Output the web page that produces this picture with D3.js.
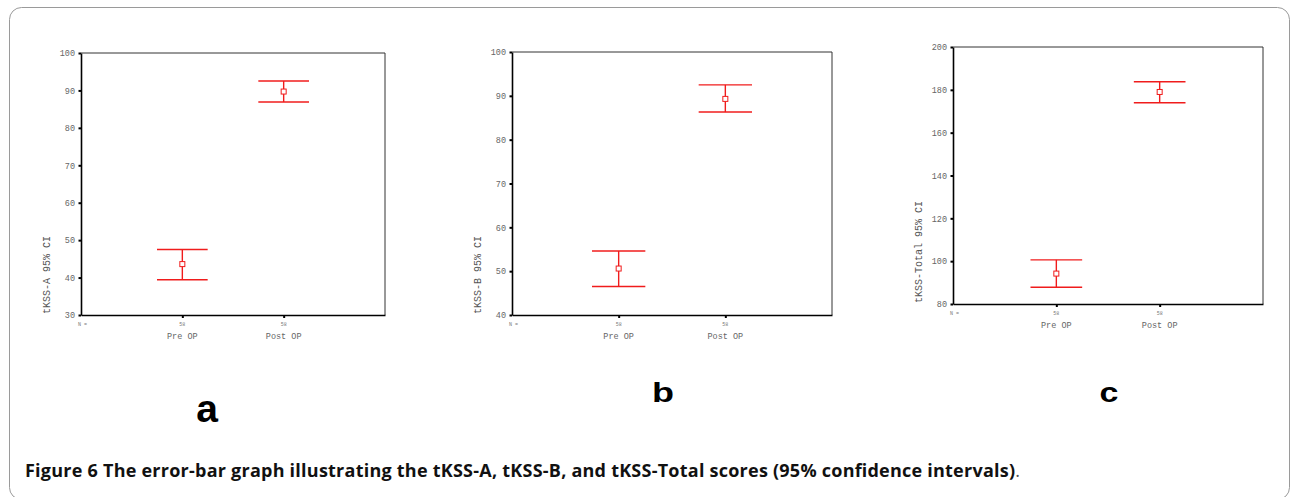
<!DOCTYPE html>
<html>
<head>
<meta charset="utf-8">
<script src="https://cdn.jsdelivr.net/npm/d3@7"></script>
<style>
  body { margin: 0; background: #fff; }
  svg { display: block; }
  .tick-lbl { font-family: "Liberation Mono", monospace; font-size: 8.5px; fill: #666; }
  .cat-lbl { font-family: "Liberation Mono", monospace; font-size: 8.5px; fill: #666; }
  .n-lbl { font-family: "Liberation Mono", monospace; font-size: 5px; fill: #777; }
  .y-title { font-family: "Liberation Mono", monospace; font-size: 10px; fill: #555; }
  .panel-letter { font-family: "Liberation Sans", Arial, sans-serif; font-weight: bold; fill: #000; }
  .caption { font-family: "Open Sans", sans-serif; font-size: 18px; fill: #111; }
</style>
</head>
<body>
<div id="chart"></div>
<script>
// values
const categories = ['Pre OP', 'Post OP'];
const nCounts = ['58', '58'];

const yTitleA = 'tKSS-A 95% CI';
const meanA = [43.6, 89.7];
const lowA = [39.4, 86.9];
const highA = [47.5, 92.5];
const ticksA = [30, 40, 50, 60, 70, 80, 90, 100];

const yTitleB = 'tKSS-B 95% CI';
const meanB = [50.6, 89.3];
const lowB = [46.5, 86.3];
const highB = [54.6, 92.5];
const ticksB = [40, 50, 60, 70, 80, 90, 100];

const yTitleT = 'tKSS-Total 95% CI';
const meanT = [94.2, 179.0];
const lowT = [87.8, 174.0];
const highT = [100.6, 183.8];
const ticksT = [80, 100, 120, 140, 160, 180, 200];

const captionBold = 'Figure 6 The error-bar graph illustrating the tKSS-A, tKSS-B, and tKSS-Total scores (95% confidence intervals)';

const W = 1291, H = 497;
const red = '#f01c1c';

const svg = d3.select('#chart').append('svg')
    .attr('width', W)
    .attr('height', H);

// outer rounded frame, bottom edge just off the page
svg.append('rect')
    .attr('x', 9.5).attr('y', 7.5)
    .attr('width', 1280).attr('height', 492)
    .attr('rx', 12)
    .attr('fill', 'none')
    .attr('stroke', '#9a9a9a')
    .attr('stroke-width', 1);

// one error-bar panel
function drawPanel(box, ticks, title, mean, low, high) {
    const g = svg.append('g');

    const x = d3.scalePoint()
        .domain(categories)
        .range([box.left, box.right])
        .padding(1);

    const y = d3.scaleLinear()
        .domain([ticks[0], ticks[ticks.length - 1]])
        .range([box.bottom, box.top]);

    // top and right frame
    g.append('path')
        .attr('d', `M${box.left},${box.top}H${box.right}V${box.bottom}`)
        .attr('fill', 'none')
        .attr('stroke', '#333')
        .attr('stroke-width', 1);

    // y axis
    const yAxis = g.append('g')
        .attr('transform', `translate(${box.left},0)`)
        .call(d3.axisLeft(y).tickValues(ticks).tickSize(0).tickPadding(6));
    yAxis.select('.domain').attr('stroke', '#000').attr('stroke-width', 1.6);
    yAxis.selectAll('.tick text').attr('class', 'tick-lbl').attr('fill', null).attr('font-size', null).attr('font-family', null);
    yAxis.selectAll('.tick').append('rect')
        .attr('x', -2.5).attr('y', -1).attr('width', 2.5).attr('height', 2)
        .attr('fill', '#000');

    // x axis
    const xAxis = g.append('g')
        .attr('transform', `translate(0,${box.bottom})`)
        .call(d3.axisBottom(x).tickSize(0).tickFormat(''));
    xAxis.select('.domain').attr('stroke', '#000').attr('stroke-width', 1.6);
    xAxis.selectAll('.tick').append('rect')
        .attr('x', -1).attr('y', 0).attr('width', 2).attr('height', 3)
        .attr('fill', '#000');

    // N = row and category names
    g.append('text').attr('class', 'n-lbl')
        .attr('x', box.left - 3).attr('y', box.bottom + 11)
        .text('N =');
    g.selectAll('.nc').data(categories).join('text')
        .attr('class', 'n-lbl')
        .attr('text-anchor', 'middle')
        .attr('x', d => x(d)).attr('y', box.bottom + 11)
        .text((d, i) => nCounts[i]);
    g.selectAll('.cat').data(categories).join('text')
        .attr('class', 'cat-lbl')
        .attr('text-anchor', 'middle')
        .attr('x', d => x(d)).attr('y', box.bottom + 24)
        .text(d => d);

    // y title, rotated
    g.append('text').attr('class', 'y-title')
        .attr('transform', `translate(${box.left - 31},${box.bottom - 1}) rotate(-90)`)
        .text(title);

    // error bars
    const cap = x.step() * 0.25;
    const rows = categories.map((c, i) => ({ c, m: mean[i], lo: low[i], hi: high[i] }));
    const bars = g.selectAll('.bar').data(rows).join('g');
    bars.append('line')
        .attr('x1', d => x(d.c)).attr('x2', d => x(d.c))
        .attr('y1', d => y(d.lo)).attr('y2', d => y(d.hi))
        .attr('stroke', red).attr('stroke-width', 1.4);
    bars.append('line')
        .attr('x1', d => x(d.c) - cap).attr('x2', d => x(d.c) + cap)
        .attr('y1', d => y(d.hi)).attr('y2', d => y(d.hi))
        .attr('stroke', red).attr('stroke-width', 1.4);
    bars.append('line')
        .attr('x1', d => x(d.c) - cap).attr('x2', d => x(d.c) + cap)
        .attr('y1', d => y(d.lo)).attr('y2', d => y(d.lo))
        .attr('stroke', red).attr('stroke-width', 1.4);
    bars.append('rect')
        .attr('x', d => x(d.c) - 2.5).attr('y', d => y(d.m) - 2.5)
        .attr('width', 5).attr('height', 5)
        .attr('fill', '#fff')
        .attr('stroke', red).attr('stroke-width', 1);
}

drawPanel({ left: 81, top: 53, right: 385, bottom: 315 }, ticksA, yTitleA, meanA, lowA, highA);
drawPanel({ left: 512, top: 52, right: 832, bottom: 315 }, ticksB, yTitleB, meanB, lowB, highB);
drawPanel({ left: 953, top: 47, right: 1263, bottom: 304 }, ticksT, yTitleT, meanT, lowT, highT);

// panel letters
svg.append('text').attr('class', 'panel-letter')
    .attr('font-size', 39).attr('text-anchor', 'middle')
    .attr('x', 207).attr('y', 422)
    .text('a');
svg.append('text').attr('class', 'panel-letter')
    .attr('font-size', 36).attr('text-anchor', 'middle')
    .attr('transform', 'translate(663,402) scale(1,0.75)')
    .text('b');
svg.append('text').attr('class', 'panel-letter')
    .attr('font-size', 34).attr('text-anchor', 'middle')
    .attr('transform', 'translate(1109,402) scale(1,0.8)')
    .text('c');

// caption
const cap = svg.append('text').attr('class', 'caption')
    .attr('x', 25).attr('y', 477);
cap.append('tspan').attr('font-weight', 'bold')
    .attr('textLength', 990).attr('lengthAdjust', 'spacing')
    .text(captionBold);
cap.append('tspan').attr('font-weight', 'normal').attr('fill', '#555').text('.');
</script>
</body>
</html>
